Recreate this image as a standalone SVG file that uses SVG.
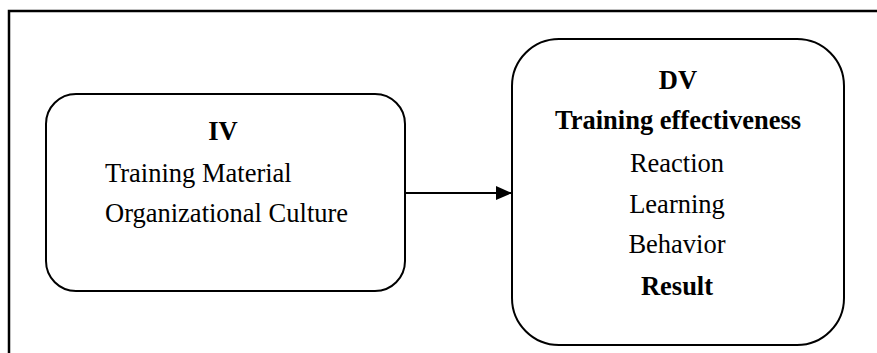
<svg xmlns="http://www.w3.org/2000/svg" width="877" height="353" viewBox="0 0 877 353">
<defs>
<style>
.box{fill:#fff;stroke:#000;stroke-width:2}
.t{font-family:"Liberation Serif","Times New Roman",serif;font-size:26.5px;fill:#000}
.b{font-weight:bold}
.c{text-anchor:middle}
</style>
<marker id="ah" viewBox="0 0 16 14" refX="16" refY="7" markerWidth="16" markerHeight="14" markerUnits="userSpaceOnUse" orient="auto">
<path d="M0,0 L16,7 L0,14 Z" fill="#000"/>
</marker>
</defs>
<rect width="877" height="353" fill="#fff"/>
<g id="frame">
<path d="M9,353 L9,11 L877,11" fill="none" stroke="#000" stroke-width="2.5"/>
</g>
<g id="iv">
<rect class="box" x="46" y="94" width="359" height="197" rx="30" ry="30"/>
<text class="t b c" x="223" y="140">IV</text>
<text class="t" x="105" y="182">Training Material</text>
<text class="t" x="105" y="222">Organizational Culture</text>
</g>
<g id="dv">
<rect class="box" x="512" y="39" width="332" height="306" rx="47" ry="47"/>
<text class="t b c" x="678" y="89">DV</text>
<text class="t b c" x="678" y="129">Training effectiveness</text>
<text class="t c" x="677" y="172">Reaction</text>
<text class="t c" x="677" y="213">Learning</text>
<text class="t c" x="677" y="253">Behavior</text>
<text class="t b c" x="677" y="295">Result</text>
</g>
<g id="connectors">
<line x1="405" y1="193" x2="512" y2="193" stroke="#000" stroke-width="2" marker-end="url(#ah)"/>
</g>
</svg>
